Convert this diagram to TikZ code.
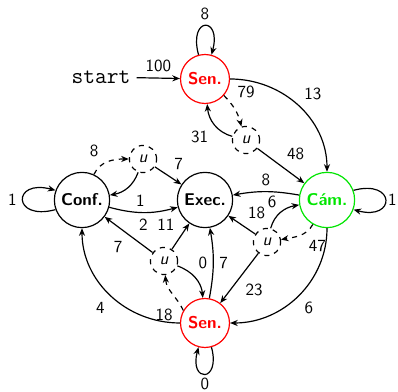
\documentclass[tikz,border=0pt]{standalone}
\usetikzlibrary{arrows.meta}
\begin{document}
\begin{tikzpicture}[x=0.588pt,y=0.588pt, line width=0.7pt, font=\sffamily,
  >={Stealth[length=4.5pt,width=3.6pt]},
  state/.style={circle,draw,inner sep=0pt,minimum size=32.5pt,font=\sffamily\bfseries},
  sen/.style={state,draw=red,text=red,minimum size=28.8pt},
  cam/.style={state,draw=green!90!black,text=green!90!black},
  choice/.style={circle,draw,dashed,inner sep=0pt,minimum size=16pt,font=\sffamily\itshape},
  startlab/.style={font=\ttfamily\fontsize{13.4}{15}\selectfont}]
\useasboundingbox (0,0) rectangle (398,392);
% nodes
\node[sen] (SenT) at (205,313) {Sen.};
\node[startlab] (start) at (101,315) {start};
\node[state] (Conf) at (82,192) {Conf.};
\node[state] (Exec) at (205,192) {Exec.};
\node[cam] (Cam) at (327,192) {Cám.};
\node[sen] (SenB) at (205,69) {Sen.};
\node[choice] (u1) at (246,252) {u};
\node[choice] (u2) at (143,233) {u};
\node[choice] (u3) at (164,131) {u};
\node[choice] (u4) at (267,150) {u};
% loops
\draw[->] (SenT.105) .. controls +(105:40) and +(75:40) .. node[above]{8} (SenT.75);
\draw[->] (SenB.-75) .. controls +(-75:37) and +(-105:37) .. node[below,inner sep=1.8pt]{0} (SenB.-105);
\draw[->] (Conf.200) .. controls +(195:45) and +(165:45) .. node[left]{1} (Conf.160);
\draw[->] (Cam.20) .. controls +(15:44) and +(-15:44) .. node[right,inner sep=1.2pt]{1} (Cam.-20);
% edges
\draw[->] (start) -- node[above]{100} (SenT);
\draw[->] (SenT) to[out=0,in=90] node[pos=0.5,above right]{13} (Cam);
\draw[->,dashed] (SenT) to[bend left=15] node[pos=0.3,above right]{79} (u1);
\draw[->] (u1) to[out=165,in=-85] node[pos=0.5,below left]{31} (SenT);
\draw[->] (u1) -- node[pos=0.5,above right]{48} (Cam);
\draw[->,dashed] (Conf) to[out=65,in=180] node[pos=0.4,above left]{8} (u2);
\draw[->] (u2) -- node[pos=0.5,above right]{7} (Exec);
\draw[->] (u2) to[out=-110,in=10] (Conf);
\draw[->] (Conf) to[bend right=15] node[pos=0.45,above]{1} node[pos=0.5,below]{2} (Exec);
\draw[->] (Cam) to[bend right=10] node[pos=0.5,above]{8} node[pos=0.4,below,inner sep=2pt]{6} (Exec);
\draw[->] (u4) to[out=75,in=190] (Cam);
\draw[->] (u4) -- node[pos=0.5,above right]{18} (Exec);
\draw[->,dashed] (Cam) to[out=-120,in=10] node[pos=0.4,below right]{47} (u4);
\draw[->] (u4) -- node[pos=0.5,below right]{23} (SenB);
\draw[->] (Cam) to[out=-90,in=0] node[pos=0.5,below right]{6} (SenB);
\draw[->,dashed] (SenB.150) to[out=115,in=-85] node[pos=0.2,below left]{18} (u3);
\draw[->] (u3) -- node[pos=0.5,below left]{7} (Conf);
\draw[->] (u3) -- node[pos=0.5,above left]{11} (Exec);
\draw[->] (u3) to[out=-20,in=95] node[pos=0.4,above right]{0} (SenB);
\draw[->] (SenB) to[bend right=10] node[pos=0.5,right]{7} (Exec);
\draw[->] (SenB) to[out=180,in=-90] node[pos=0.5,below left]{4} (Conf);
\end{tikzpicture}
\end{document}
